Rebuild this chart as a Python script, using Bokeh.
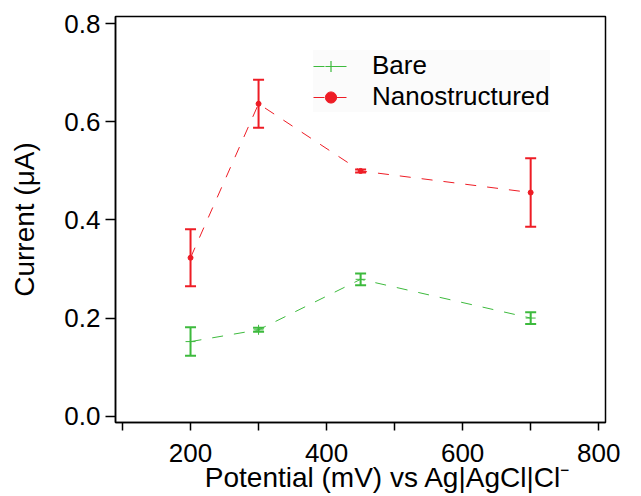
from bokeh.plotting import figure
from bokeh.models import (Range1d, FixedTicker, PrintfTickFormatter, Whisker, TeeHead,
                          ColumnDataSource, Legend, LegendItem)
from bokeh.embed import file_html
from bokeh.resources import INLINE

# ---- data ----
potential = [200, 300, 450, 700]
bare = [0.152, 0.176, 0.279, 0.200]
bare_err = [0.029, 0.004, 0.012, 0.012]
nano = [0.323, 0.637, 0.500, 0.456]
nano_err = [0.058, 0.049, 0.003, 0.070]
x_ticks = [200, 400, 600, 800]
x_minor = [100, 300, 500, 700]
y_ticks = [0.0, 0.2, 0.4, 0.6, 0.8]

GREEN = "#3dba3d"
RED = "#ee1c25"
FONT = "Liberation Sans"

p = figure(width=641, height=496, output_backend="svg", toolbar_location=None,
           x_range=Range1d(89.7, 810), y_range=Range1d(-0.013, 0.815),
           min_border_left=115, min_border_right=36, min_border_top=16, min_border_bottom=74)
p.xgrid.visible = False
p.ygrid.visible = False
p.outline_line_color = "black"
p.outline_line_width = 1.5
p.outline_line_alpha = 1
p.background_fill_color = "white"
p.border_fill_color = "white"

# axes
xa = p.xaxis[0]
xa.ticker = FixedTicker(ticks=x_ticks, minor_ticks=x_minor)
xa.major_tick_out = 8
xa.major_tick_in = 0
xa.minor_tick_out = 8
xa.minor_tick_in = 0
xa.major_tick_line_width = 1.5
xa.minor_tick_line_width = 1.5
xa.major_tick_line_color = "black"
xa.minor_tick_line_color = "black"
xa.axis_line_width = 1.5
xa.axis_line_color = "black"
xa.major_label_text_font = FONT
xa.major_label_text_font_size = "26px"
xa.major_label_text_color = "black"
xa.major_label_standoff = 13
# leading no-break spaces shift the centred title right, as in the reference
xa.axis_label = "\u00a0" * 7 + "Potential (mV) vs Ag|AgCl|Cl\u207b"
xa.axis_label_text_font = FONT
xa.axis_label_text_font_size = "28px"
xa.axis_label_text_font_style = "normal"
xa.axis_label_text_color = "black"
xa.axis_label_standoff = -3

ya = p.yaxis[0]
ya.ticker = FixedTicker(ticks=y_ticks)
ya.formatter = PrintfTickFormatter(format="%.1f")
ya.major_tick_out = 10
ya.major_tick_in = 0
ya.minor_tick_out = 0
ya.minor_tick_in = 0
ya.major_tick_line_width = 1.5
ya.major_tick_line_color = "black"
ya.axis_line_width = 1.5
ya.axis_line_color = "black"
ya.major_label_text_font = FONT
ya.major_label_text_font_size = "26px"
ya.major_label_text_color = "black"
ya.major_label_standoff = 5
ya.axis_label = "Current (μA)"
ya.axis_label_text_font = FONT
ya.axis_label_text_font_size = "28px"
ya.axis_label_text_font_style = "normal"
ya.axis_label_text_color = "black"
ya.axis_label_standoff = 21

# data
bare_src = ColumnDataSource(dict(x=potential, y=bare,
                                 upper=[v + e for v, e in zip(bare, bare_err)],
                                 lower=[v - e for v, e in zip(bare, bare_err)]))
nano_src = ColumnDataSource(dict(x=potential, y=nano,
                                 upper=[v + e for v, e in zip(nano, nano_err)],
                                 lower=[v - e for v, e in zip(nano, nano_err)]))

p.line("x", "y", source=bare_src, line_color=GREEN, line_width=1, line_dash="11 11")
p.line("x", "y", source=nano_src, line_color=RED, line_width=1, line_dash="11 11")

for src, c in ((bare_src, GREEN), (nano_src, RED)):
    p.add_layout(Whisker(base="x", upper="upper", lower="lower", source=src,
                         line_color=c, line_width=2,
                         upper_head=TeeHead(size=11, line_color=c, line_width=2),
                         lower_head=TeeHead(size=11, line_color=c, line_width=2)))

p.scatter("x", "y", source=bare_src, marker="cross", size=10, line_color=GREEN, line_width=1)
p.scatter("x", "y", source=nano_src, marker="circle", size=5, fill_color=RED, line_color=RED)

# legend-only glyphs (a single point placed outside the visible range)
off_x = [0]
off_y = [-1]
lg_bl = p.line(off_x, off_y, line_color=GREEN, line_width=1, line_dash="11 11")
lg_bs = p.scatter(off_x, off_y, marker="cross", size=15, line_color=GREEN, line_width=1.2)
lg_nl = p.line(off_x, off_y, line_color=RED, line_width=1, line_dash="11 11")
lg_ns = p.scatter(off_x, off_y, marker="circle", size=16, fill_color=RED, line_color=RED)

legend = Legend(items=[LegendItem(label="Bare", renderers=[lg_bl, lg_bs]),
                       LegendItem(label="Nanostructured", renderers=[lg_nl, lg_ns])],
                location=(198, 310), label_text_font=FONT, label_text_font_size="26px",
                label_text_color="black", glyph_width=35, glyph_height=28, label_height=28,
                label_standoff=24, padding=4, spacing=-2, margin=0,
                background_fill_color="#fbfbfb", background_fill_alpha=1,
                border_line_color=None)
p.add_layout(legend)

open("out.html", "w").write(file_html(p, INLINE))
